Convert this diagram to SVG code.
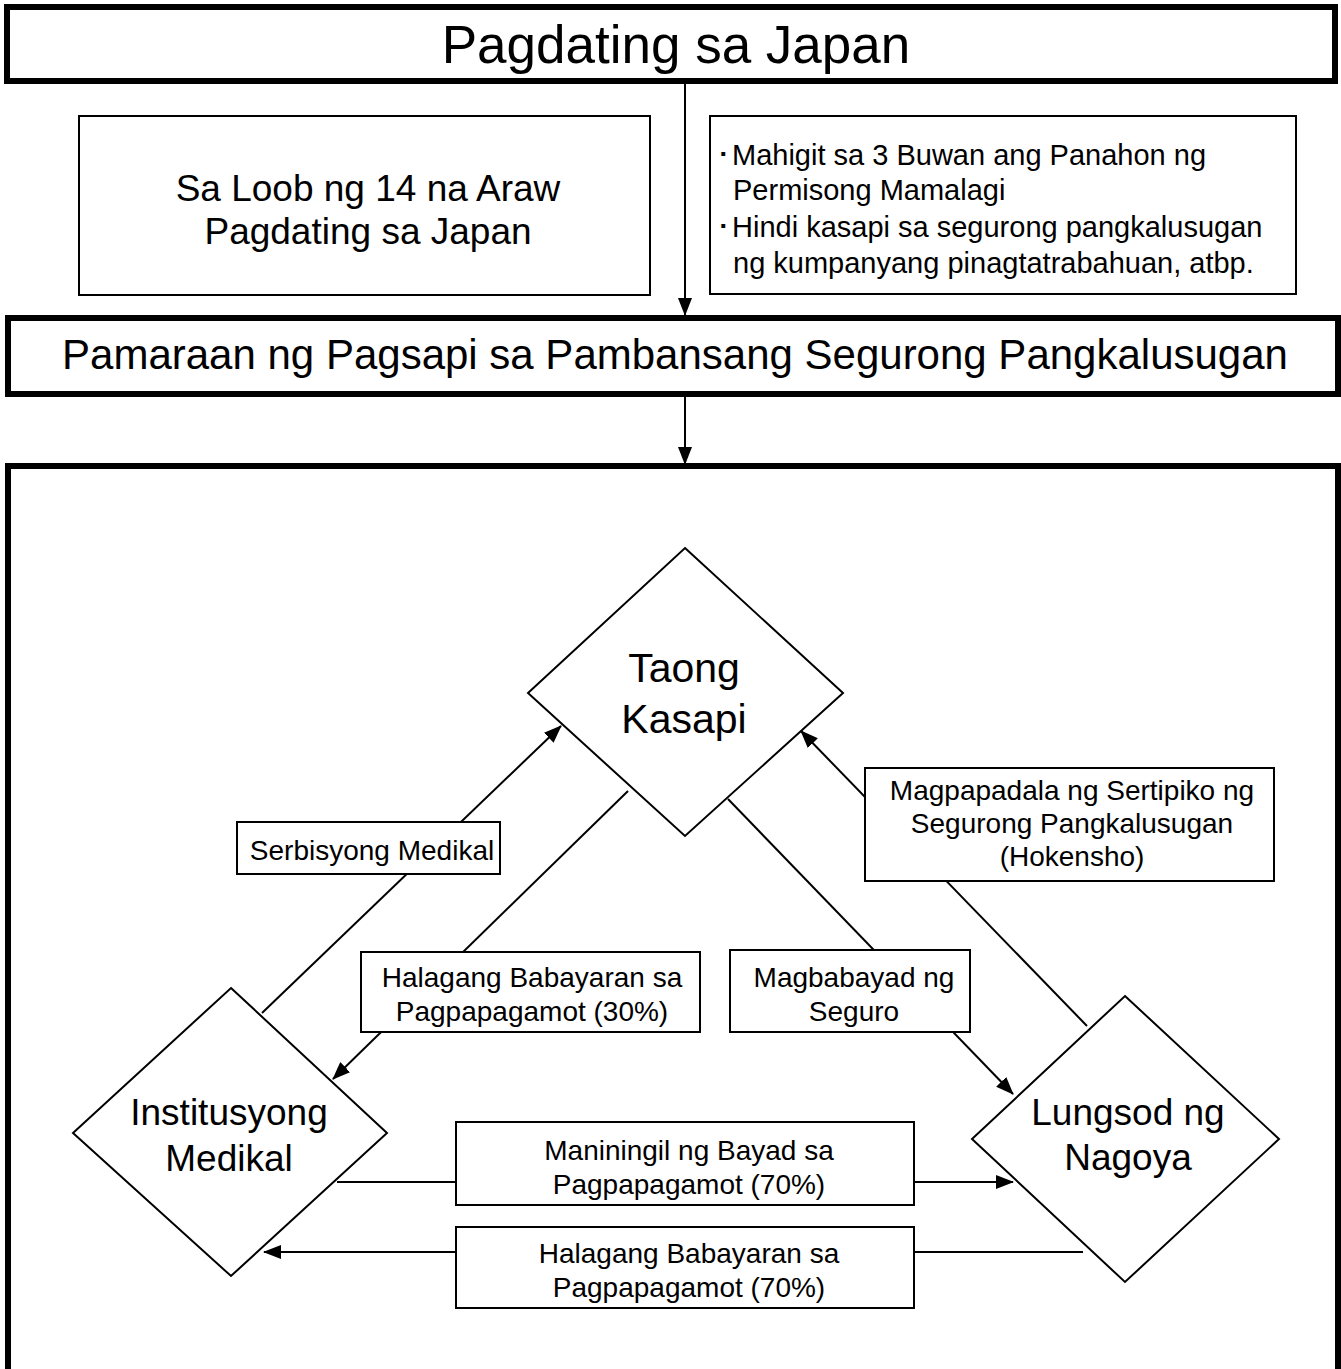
<svg xmlns="http://www.w3.org/2000/svg" width="1341" height="1369" viewBox="0 0 1341 1369">
<style>
text{font-family:"Liberation Sans",Arial,sans-serif;fill:#000}
.c{text-anchor:middle}
.thick{fill:#fff;stroke:#000;stroke-width:6}
.thin{fill:#fff;stroke:#000;stroke-width:2}
.conn{stroke:#000;stroke-width:2;fill:none}
.t53{font-size:53px}.t42{font-size:42px}.t37{font-size:37px}.t41{font-size:41px}.t29{font-size:29px}.t28{font-size:28px}
</style>
<defs>
<marker id="ah" viewBox="0 0 18 14" refX="17" refY="7" markerWidth="18" markerHeight="14" markerUnits="userSpaceOnUse" orient="auto">
<path d="M0,0 L18,7 L0,14 z" fill="#000"/>
</marker>
</defs>
<rect width="1341" height="1369" fill="#fff"/>
<g id="panel">
<rect x="8" y="466" width="1330" height="1000" fill="none" stroke="#000" stroke-width="6"/>
</g>
<g id="connectors">
<path class="conn" d="M685,84 L685,315" marker-end="url(#ah)"/>
<path class="conn" d="M685,397 L685,464" marker-end="url(#ah)"/>
<path class="conn" d="M262,1013 L561,726" marker-end="url(#ah)"/>
<path class="conn" d="M628,791 L333,1079" marker-end="url(#ah)"/>
<path class="conn" d="M728,799 L1013,1094" marker-end="url(#ah)"/>
<path class="conn" d="M1087,1026 L801,731" marker-end="url(#ah)"/>
<path class="conn" d="M337,1182 L1013,1182" marker-end="url(#ah)"/>
<path class="conn" d="M1083,1252 L264,1252" marker-end="url(#ah)"/>
</g>
<g id="arrival">
<rect class="thick" x="7" y="7" width="1328" height="74"/>
<text class="c t53" x="676" y="63">Pagdating sa Japan</text>
</g>
<g id="within14">
<rect class="thin" x="79" y="116" width="571" height="179"/>
<text class="c t37" x="368" y="201">Sa Loob ng 14 na Araw</text>
<text class="c t37" x="368" y="244">Pagdating sa Japan</text>
</g>
<g id="conditions">
<rect class="thin" x="710" y="116" width="586" height="178"/>
<text class="t29" x="716" y="165">･</text>
<text class="t29" x="732" y="165">Mahigit sa 3 Buwan ang Panahon ng</text>
<text class="t29" x="733" y="200">Permisong Mamalagi</text>
<text class="t29" x="716" y="237">･</text>
<text class="t29" x="732" y="237">Hindi kasapi sa segurong pangkalusugan</text>
<text class="t29" x="733" y="273">ng kumpanyang pinagtatrabahuan, atbp.</text>
</g>
<g id="procedure">
<rect class="thick" x="8" y="318" width="1330" height="76"/>
<text class="c t42" x="675" y="369">Pamaraan ng Pagsapi sa Pambansang Segurong Pangkalusugan</text>
</g>
<g id="member">
<polygon class="thin" points="685,548 843,693 685,836 528,693"/>
<text class="c t41" x="684" y="682">Taong</text>
<text class="c t41" x="684" y="733">Kasapi</text>
</g>
<g id="medical">
<polygon class="thin" points="231,988 387,1133 231,1276 73,1133"/>
<text class="c t37" x="229" y="1125">Institusyong</text>
<text class="c t37" x="229" y="1171">Medikal</text>
</g>
<g id="nagoya">
<polygon class="thin" points="1125,996 1279,1139 1125,1282 972,1139"/>
<text class="c t37" x="1128" y="1125">Lungsod ng</text>
<text class="c t37" x="1128" y="1170">Nagoya</text>
</g>
<g id="lbl-service">
<rect class="thin" x="237" y="822" width="263" height="52"/>
<text class="c t28" x="372" y="860">Serbisyong Medikal</text>
</g>
<g id="lbl-copay">
<rect class="thin" x="361" y="952" width="339" height="80"/>
<text class="c t28" x="532" y="987">Halagang Babayaran sa</text>
<text class="c t28" x="532" y="1021">Pagpapagamot (30%)</text>
</g>
<g id="lbl-premium">
<rect class="thin" x="730" y="950" width="240" height="82"/>
<text class="c t28" x="854" y="987">Magbabayad ng</text>
<text class="c t28" x="854" y="1021">Seguro</text>
</g>
<g id="lbl-card">
<rect class="thin" x="865" y="768" width="409" height="113"/>
<text class="c t28" x="1072" y="800">Magpapadala ng Sertipiko ng</text>
<text class="c t28" x="1072" y="833">Segurong Pangkalusugan</text>
<text class="c t28" x="1072" y="866">(Hokensho)</text>
</g>
<g id="lbl-claim">
<rect class="thin" x="456" y="1122" width="458" height="83"/>
<text class="c t28" x="689" y="1160">Maniningil ng Bayad sa</text>
<text class="c t28" x="689" y="1194">Pagpapagamot (70%)</text>
</g>
<g id="lbl-pay70">
<rect class="thin" x="456" y="1227" width="458" height="81"/>
<text class="c t28" x="689" y="1263">Halagang Babayaran sa</text>
<text class="c t28" x="689" y="1297">Pagpapagamot (70%)</text>
</g>
</svg>
